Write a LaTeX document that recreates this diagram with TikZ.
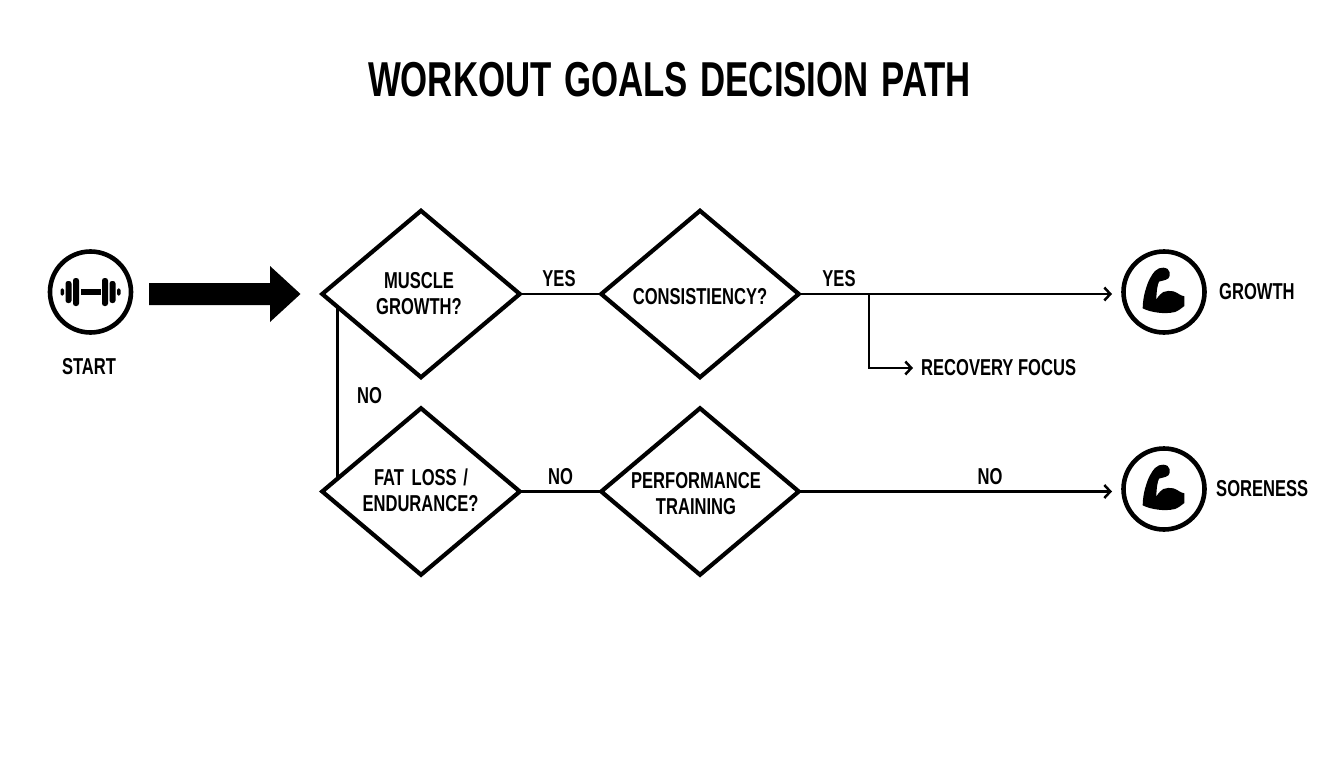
\documentclass[tikz,border=0pt]{standalone}
\usepackage{fontspec}
\setmainfont{Liberation Sans}[FakeStretch=0.72]
\newfontfamily\titlefont{Liberation Sans}[FakeStretch=0.71]
\usetikzlibrary{shapes.geometric,arrows.meta,calc}
\newcommand{\tline}[2]{\raisebox{#1}[0pt][0pt]{#2}}
\tikzset{
  every node/.style={font=\fontsize{23}{26}\selectfont\bfseries,text=black,inner sep=0pt,align=center},
  decision/.style={diamond,draw=black,line width=4.2pt,aspect=1.19,minimum width=197.5pt,minimum height=166.5pt,inner sep=0pt,outer sep=0pt,miter limit=10},
  iconring/.style={circle,draw=black,line width=4.6pt,minimum size=81pt,outer sep=0pt},
  conn/.style={draw=black,line width=2.5pt},
  arr/.style={conn,-{Straight Barb[length=6pt,width=13pt,line width=2.5pt]}},
  dumbbell/.pic={
    \fill (-10,-3) rectangle (10,3);
    \foreach \s in {-1,1}{
      \fill[rounded corners=2.5pt] (\s*11.5,-14) rectangle (\s*17.5,14);
      \fill[rounded corners=2.5pt] (\s*19,-11) rectangle (\s*25,11);
      \fill[rounded corners=1.5pt] (\s*26.5,-3.7) rectangle (\s*30,3.7);
    }
  },
  muscle/.pic={
    \fill[scale=0.3333] (-64,49) .. controls (-64,30) and (-60,10) .. (-57,-1)
      .. controls (-52,-18) and (-48,-30) .. (-42,-41)
      .. controls (-37,-50) and (-32,-58) .. (-27,-63)
      .. controls (-20,-70) and (-10,-74) .. (-2,-73)
      .. controls (8,-72) and (16,-68) .. (17,-59)
      .. controls (18,-50) and (16,-44) .. (13,-41)
      .. controls (4,-34) and (-8,-34) .. (-15,-31)
      .. controls (-20,-22) and (-23,2) .. (-23,23)
      .. controls (-16,10) and (-8,4) .. (-2,0)
      .. controls (8,-4) and (18,-4) .. (28,-2)
      .. controls (40,1) and (48,11) .. (61,13)
      -- (61,42)
      .. controls (52,49) and (42,57) .. (33,60)
      .. controls (16,64) and (-2,64) .. (-17,62)
      .. controls (-34,60) and (-50,56) .. (-64,49) -- cycle;
  }
}
\begin{document}
\begin{tikzpicture}[x=1pt,y=-1pt]
\useasboundingbox (0,0) rectangle (1344,768);
\node (title) at (669.5,80) {\titlefont\fontsize{49}{52}\selectfont WORKOUT\hspace{3pt} GOALS\hspace{3pt} DECISION\hspace{3pt} PATH};

\node[iconring] (startc) at (90.5,292) {};
\pic at (startc.center) {dumbbell};
\node (startl) at (89,367) {START};

\fill[black] (149,283) -- (270,283) -- (270,266) -- (300.5,294) -- (270,322) -- (270,305) -- (149,305) -- cycle;

\node[decision] (d1) at (421,294) {\tline{-7.5pt}{MUSCLE}\hspace*{4pt}\\\tline{-7.5pt}{GROWTH?}\hspace*{4pt}};
\node[decision] (d2) at (700,294) {\tline{-10.5pt}{CONSISTIENCY?}};
\node[decision] (d3) at (421,491.5) {\tline{-7pt}{FAT\hspace{3pt} LOSS\hspace{2pt} /}\\\tline{-7pt}{ENDURANCE?}\hspace*{1pt}};
\node[decision] (d4) at (700,491.5) {\tline{-10pt}{PERFORMANCE}\hspace*{8pt}\\\tline{-10pt}{TRAINING}\hspace*{8pt}};

\node[iconring] (growc) at (1164,292) {};
\pic at (growc.center) {muscle};
\node[iconring] (sorec) at (1164,489) {};
\pic at (sorec.center) {muscle};
\node[anchor=west] (growl) at (1219,292) {GROWTH};
\node[anchor=west] (sorel) at (1216,489) {SORENESS};
\node[anchor=west] (recov) at (921,368) {RECOVERY FOCUS};

\draw[conn] (d1.east) -- (d2.west);
\coordinate (branch) at (869,294);
\coordinate (growend) at (1112,294);
\coordinate (soreend) at (1112,491.5);
\draw[arr] (d2.east) -- (growend);
\draw[arr,shorten >=8pt] (branch) |- (recov.west);
\draw[conn] (d3.east) -- (d4.west);
\draw[arr] (d4.east) -- (soreend);
\draw[conn] ($(d1.west)!0.155!(d1.south)$) -- ($(d3.west)!0.155!(d3.north)$);

\node (yes1) at (559,279) {YES};
\node (yes2) at (839,279) {YES};
\node (no1) at (369.5,396) {NO};
\node (no2) at (560.5,477) {NO};
\node (no3) at (990,477) {NO};
\end{tikzpicture}
\end{document}
